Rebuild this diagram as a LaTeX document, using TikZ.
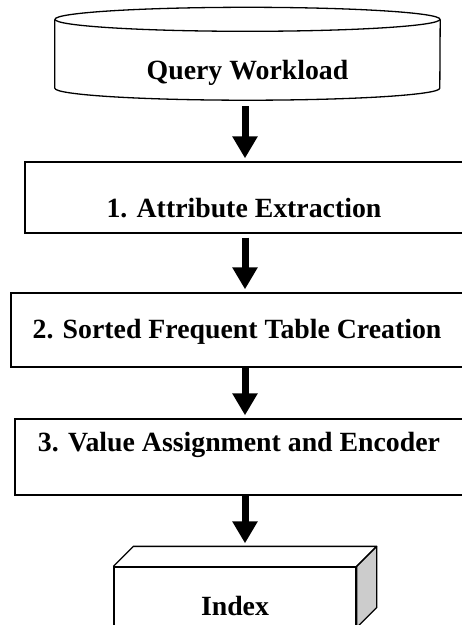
\documentclass[tikz,border=0pt]{standalone}
\usepackage{fontspec}
\setmainfont{Liberation Serif}
\usetikzlibrary{arrows.meta,calc}
\definecolor{SideGray}{HTML}{CCCCCC}

\begin{document}
\begin{tikzpicture}[x=1pt, y=1pt,
  stage/.style={draw, line width=1.3pt, inner sep=0pt},
  rim/.style={line width=1.3pt, line join=round},
  txt/.style={font=\fontsize{27.8}{33}\selectfont\bfseries, inner sep=0pt},
  flow/.style={line width=7pt, -{Triangle[width=24pt,length=22pt]}, shorten >=3pt}]
  \useasboundingbox (0,0) rectangle (462,-625);
  \clip (0,0) rectangle (462,-625);
  \coordinate (ax) at (245,0);
  % workload store
  \node[inner sep=0pt, minimum width=385, minimum height=68.5,
        label={[txt, yshift=-19.5]center:Query Workload}] (qw) at (247.5,-53.75) {};
  \draw[rim] (qw.north west) -- (qw.south west)
    arc[start angle=180, end angle=360, x radius=192.5, y radius=12] -- (qw.north east);
  \draw[rim] (qw.north) ellipse [x radius=192.5, y radius=12];
  % steps
  \node[stage, minimum width=438, minimum height=71,
        label={[txt, yshift=-10.5]center:1. Attribute Extraction}] (s1) at (244,-197.5) {};
  \node[stage, minimum width=452, minimum height=74,
        label={[txt, yshift=-2]center:2. Sorted Frequent Table Creation}] (s2) at (237,-330) {};
  \node[stage, minimum width=448, minimum height=76,
        label={[txt, yshift=12]center:3. Value Assignment and Encoder}] (s3) at (239,-457) {};
  % index block
  \node[stage, minimum width=242, minimum height=60,
        label={[txt, yshift=-9]center:Index}] (ix) at (235,-597) {};
  \draw[rim, fill=SideGray] (ix.north east) -- ++(20,20) -- ($(ix.south east)+(20,20)$)
    -- (ix.south east) -- cycle;
  \draw[rim] (ix.north west) -- ++(20,20) -- ($(ix.north east)+(20,20)$) -- (ix.north east);
  % arrows
  \draw[flow] ($(qw.south -| ax)+(0,-18)$) -- (s1.north -| ax);
  \draw[flow] ($(s1.south -| ax)+(0,-4)$) -- (s2.north -| ax);
  \draw[flow] (s2.south -| ax) -- (s3.north -| ax);
  \draw[flow] (s3.south -| ax) -- ($(ix.north -| ax)+(0,20)$);
\end{tikzpicture}
\end{document}
